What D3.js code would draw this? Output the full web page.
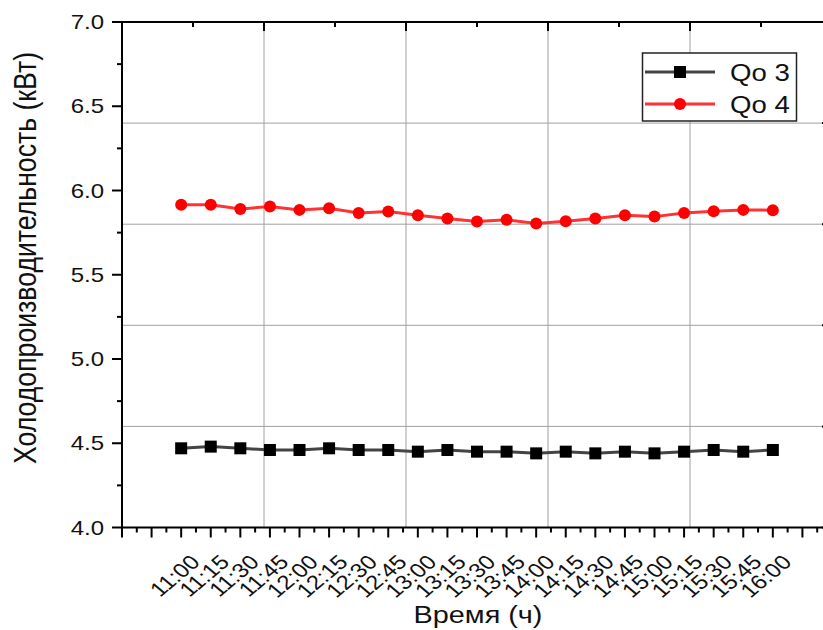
<!DOCTYPE html>
<html>
<head>
<meta charset="utf-8">
<script src="https://cdn.jsdelivr.net/npm/d3@7"></script>
<style>
  html, body { margin: 0; padding: 0; background: #fff; }
  svg { display: block; font-family: "Liberation Sans", Arial, sans-serif; }
</style>
</head>
<body>
<svg id="chart" width="823" height="630"></svg>
<script>
// values
const times = ["11:00", "11:15", "11:30", "11:45", "12:00", "12:15", "12:30", "12:45", "13:00", "13:15", "13:30",
  "13:45", "14:00", "14:15", "14:30", "14:45", "15:00", "15:15", "15:30", "15:45", "16:00"];
const qo3 = [4.47, 4.48, 4.47, 4.46, 4.46, 4.47, 4.46, 4.46, 4.45, 4.46, 4.45,
  4.45, 4.44, 4.45, 4.44, 4.45, 4.44, 4.45, 4.46, 4.45, 4.46];
const qo4 = [5.915, 5.915, 5.89, 5.905, 5.885, 5.895, 5.867, 5.875, 5.853, 5.834, 5.816,
  5.826, 5.804, 5.818, 5.834, 5.853, 5.845, 5.867, 5.877, 5.885, 5.883];
const yTicks = [4.0, 4.5, 5.0, 5.5, 6.0, 6.5, 7.0];
const rightTicks = [4.0, 4.6, 5.2, 5.8, 6.4, 7.0]; // secondary axis, gives the horizontal grid
const topTicks = [0, 1, 2, 3, 4, 5];               // secondary axis, gives the vertical grid
const seriesNames = ["Qo 3", "Qo 4"];

const d3 = window.d3;
const svg = d3.select("#chart");

const mLeft = 122, mRight = 832, mTop = 22, mBottom = 527.5;
const sx = 1.2; // the reference picture is stretched a little horizontally

const x = d3.scaleLinear().domain([-2, 22]).range([mLeft, mRight]);
const xTop = d3.scaleLinear().domain([0, 5]).range([mLeft, mRight]);
const y = d3.scaleLinear().domain([4, 7]).range([mBottom, mTop]);

// grid from the secondary axes
const grid = svg.append("g").attr("stroke", "#a0a0a0").attr("stroke-width", 1);
grid.selectAll(".gx")
  .data(topTicks.slice(1, -1))
  .enter().append("line")
  .attr("x1", d => xTop(d)).attr("x2", d => xTop(d))
  .attr("y1", mTop).attr("y2", mBottom);
grid.selectAll(".gy")
  .data(rightTicks.slice(1, -1))
  .enter().append("line")
  .attr("x1", mLeft).attr("x2", mRight)
  .attr("y1", d => y(d)).attr("y2", d => y(d));

// series
const line = d3.line().x((d, i) => x(i)).y(d => y(d));

svg.append("path").datum(qo3)
  .attr("fill", "none").attr("stroke", "#444").attr("stroke-width", 3)
  .attr("d", line);
svg.append("path").datum(qo4)
  .attr("fill", "none").attr("stroke", "#f33").attr("stroke-width", 3)
  .attr("d", line);

svg.append("g").selectAll("rect")
  .data(qo3).enter().append("rect")
  .attr("x", (d, i) => x(i) - 6).attr("y", d => y(d) - 6)
  .attr("width", 12).attr("height", 12)
  .attr("fill", "#000");
svg.append("g").selectAll("circle")
  .data(qo4).enter().append("circle")
  .attr("cx", (d, i) => x(i)).attr("cy", d => y(d))
  .attr("r", 6)
  .attr("fill", "#f00");

// axes
const xMajor = d3.range(-2, 23);
const xMinor = d3.range(-1.5, 22, 1);
const yMinor = d3.range(4.25, 7, 0.5);

const axG = svg.append("g").attr("stroke", "#000").attr("stroke-width", 2);

// bottom
axG.append("line").attr("x1", mLeft - 1).attr("x2", mRight).attr("y1", mBottom).attr("y2", mBottom);
axG.selectAll(".bt").data(xMajor).enter().append("line")
  .attr("x1", d => x(d)).attr("x2", d => x(d)).attr("y1", mBottom).attr("y2", mBottom + 10);
axG.selectAll(".bm").data(xMinor).enter().append("line")
  .attr("x1", d => x(d)).attr("x2", d => x(d)).attr("y1", mBottom).attr("y2", mBottom + 5);

// left
axG.append("line").attr("x1", mLeft).attr("x2", mLeft).attr("y1", mTop - 1).attr("y2", mBottom + 1);
axG.selectAll(".lt").data(yTicks).enter().append("line")
  .attr("x1", mLeft - 10).attr("x2", mLeft).attr("y1", d => y(d)).attr("y2", d => y(d));
axG.selectAll(".lm").data(yMinor).enter().append("line")
  .attr("x1", mLeft - 5).attr("x2", mLeft).attr("y1", d => y(d)).attr("y2", d => y(d));

// top (ticks inward)
axG.append("line").attr("x1", mLeft - 1).attr("x2", mRight).attr("y1", mTop).attr("y2", mTop);
axG.selectAll(".tt").data(topTicks).enter().append("line")
  .attr("x1", d => xTop(d)).attr("x2", d => xTop(d)).attr("y1", mTop).attr("y2", mTop + 9);
axG.selectAll(".tm").data(d3.range(0.5, 5, 1)).enter().append("line")
  .attr("x1", d => xTop(d)).attr("x2", d => xTop(d)).attr("y1", mTop).attr("y2", mTop + 5);

// right (mostly outside the frame, ticks inward)
axG.append("line").attr("x1", mRight).attr("x2", mRight).attr("y1", mTop).attr("y2", mBottom);
axG.selectAll(".rt").data(rightTicks).enter().append("line")
  .attr("x1", mRight - 10).attr("x2", mRight).attr("y1", d => y(d)).attr("y2", d => y(d));

// tick labels
svg.append("g").selectAll("text")
  .data(yTicks).enter().append("text")
  .attr("transform", d => `translate(${mLeft - 18},${y(d) + 7}) scale(${sx},1)`)
  .attr("text-anchor", "end")
  .attr("font-size", 20)
  .attr("fill", "#111")
  .text(d => d.toFixed(1));

svg.append("g").selectAll("text")
  .data(times).enter().append("text")
  .attr("transform", (d, i) => `translate(${x(i) + 20},${mBottom + 36}) scale(${sx},1) rotate(-45)`)
  .attr("text-anchor", "end")
  .attr("font-size", 20)
  .attr("fill", "#111")
  .text(d => d);

// axis titles
svg.append("text")
  .attr("transform", `translate(478,623) scale(${sx},1)`)
  .attr("text-anchor", "middle")
  .attr("font-size", 24)
  .attr("fill", "#111")
  .text("Время (ч)");

svg.append("text")
  .attr("transform", `translate(36,258) scale(${sx},1) rotate(-90)`)
  .attr("text-anchor", "middle")
  .attr("font-size", 26)
  .attr("textLength", 412)
  .attr("lengthAdjust", "spacingAndGlyphs")
  .attr("fill", "#111")
  .text("Холодопроизводительность (кВт)");

// legend
const lg = svg.append("g");
lg.append("rect")
  .attr("x", 642.5).attr("y", 53)
  .attr("width", 154).attr("height", 68)
  .attr("fill", "#fff").attr("stroke", "#222").attr("stroke-width", 1.5);

const rows = lg.selectAll(".row")
  .data(seriesNames).enter().append("g")
  .attr("transform", (d, i) => `translate(645,${72 + i * 32})`);
rows.append("line")
  .attr("x1", 0).attr("x2", 70)
  .attr("stroke", (d, i) => i ? "#f33" : "#444")
  .attr("stroke-width", 3);
rows.filter((d, i) => i === 0).append("rect")
  .attr("x", 29).attr("y", -6).attr("width", 12).attr("height", 12).attr("fill", "#000");
rows.filter((d, i) => i === 1).append("circle")
  .attr("cx", 35).attr("r", 6).attr("fill", "#f00");
rows.append("text")
  .attr("transform", `translate(85,9) scale(${sx},1)`)
  .attr("font-size", 23)
  .attr("fill", "#111")
  .text(d => d);
</script>
</body>
</html>
